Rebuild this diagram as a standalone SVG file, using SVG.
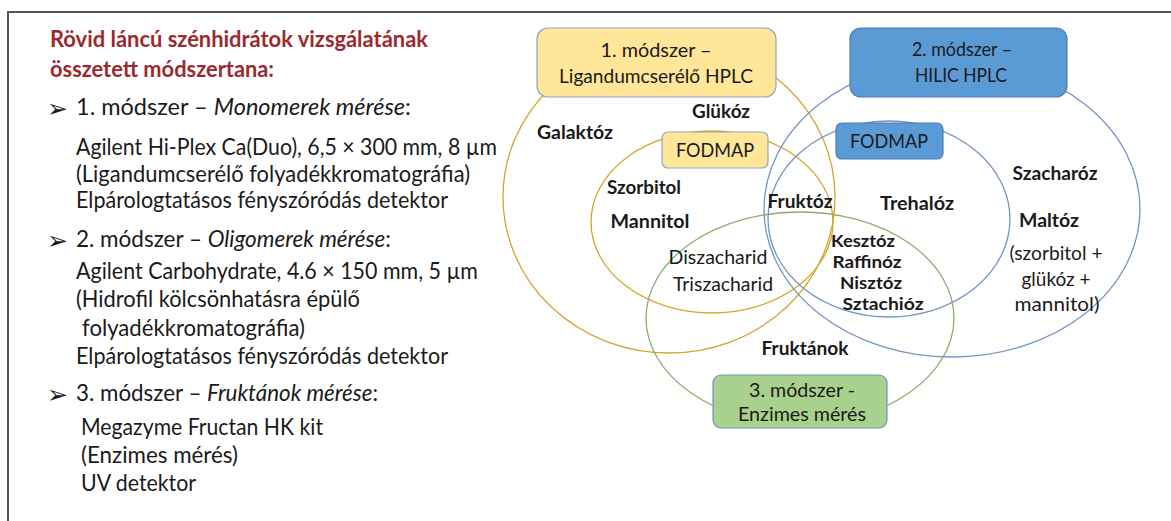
<svg xmlns="http://www.w3.org/2000/svg" width="1171" height="521" viewBox="0 0 1171 521">
<defs>
<style>
.t{font-family:Lato,"Open Sans","Liberation Sans",sans-serif;fill:#1a1a1a}
.body{font-size:22.5px}
.title{font-size:22px;font-weight:bold;fill:#9B2A2F}
.lb{font-size:19.5px;font-weight:bold;text-anchor:middle}
.ls{font-size:17px;font-weight:bold;text-anchor:middle}
.lr{font-size:20px;text-anchor:middle}
.bx{font-size:20px;text-anchor:middle}
.ey{fill:none;stroke:#D4A52A;stroke-width:1.3}
.eb{fill:none;stroke:#6F95C3;stroke-width:1.3}
.eg{fill:none;stroke:#8AAE6E;stroke-width:1.3}
.arw{font-family:"DejaVu Sans",sans-serif;font-size:25px;fill:#1a1a1a}
</style>
</defs>
<rect width="1171" height="521" fill="#ffffff"/>
<g id="frame" stroke="#5a5550" stroke-width="2" fill="none">
<line x1="8" y1="12" x2="1171" y2="12"/>
<line x1="8" y1="11" x2="8" y2="521"/>
</g>
<g id="left-text">
<text class="t title" x="50" y="47" textLength="378" lengthAdjust="spacingAndGlyphs">Rövid láncú szénhidrátok vizsgálatának</text>
<text class="t title" x="50" y="77" textLength="224" lengthAdjust="spacingAndGlyphs">összetett módszertana:</text>
<text class="arw" x="47" y="117">➢</text>
<text class="t body" x="76" y="115" textLength="335" lengthAdjust="spacingAndGlyphs">1. módszer – <tspan font-style="italic">Monomerek mérése</tspan>:</text>
<text class="t body" x="76" y="155" textLength="421" lengthAdjust="spacingAndGlyphs">Agilent Hi-Plex Ca(Duo), 6,5 × 300 mm, 8 µm</text>
<text class="t body" x="76" y="182" textLength="394" lengthAdjust="spacingAndGlyphs">(Ligandumcserélő folyadékkromatográfia)</text>
<text class="t body" x="76" y="208" textLength="372" lengthAdjust="spacingAndGlyphs">Elpárologtatásos fényszóródás detektor</text>
<text class="arw" x="47" y="249">➢</text>
<text class="t body" x="76" y="247" textLength="315" lengthAdjust="spacingAndGlyphs">2. módszer – <tspan font-style="italic">Oligomerek mérése</tspan>:</text>
<text class="t body" x="76" y="279" textLength="402" lengthAdjust="spacingAndGlyphs">Agilent Carbohydrate, 4.6 × 150 mm, 5 µm</text>
<text class="t body" x="76" y="307" textLength="284" lengthAdjust="spacingAndGlyphs">(Hidrofil kölcsönhatásra épülő</text>
<text class="t body" x="82" y="336" textLength="223" lengthAdjust="spacingAndGlyphs">folyadékkromatográfia)</text>
<text class="t body" x="76" y="364" textLength="372" lengthAdjust="spacingAndGlyphs">Elpárologtatásos fényszóródás detektor</text>
<text class="arw" x="47" y="403">➢</text>
<text class="t body" x="76" y="401" textLength="302" lengthAdjust="spacingAndGlyphs">3. módszer – <tspan font-style="italic">Fruktánok mérése</tspan>:</text>
<text class="t body" x="81" y="435" textLength="242" lengthAdjust="spacingAndGlyphs">Megazyme Fructan HK kit</text>
<text class="t body" x="81" y="463" textLength="157" lengthAdjust="spacingAndGlyphs">(Enzimes mérés)</text>
<text class="t body" x="81" y="491" textLength="115" lengthAdjust="spacingAndGlyphs">UV detektor</text>
</g>
<g id="connectors">
<ellipse class="ey" cx="669" cy="197" rx="166" ry="156"/>
<ellipse class="ey" cx="712" cy="222" rx="121" ry="91"/>
<ellipse class="eb" cx="952" cy="209" rx="188" ry="148"/>
<ellipse class="eb" cx="889" cy="219" rx="121" ry="98"/>
<ellipse class="eg" cx="800" cy="318" rx="154" ry="106"/>
</g>
<g id="method1">
<rect x="537" y="28" width="239" height="69" rx="11" fill="#FFE699" stroke="#8EA6BE" stroke-width="1.2"/>
<text class="t bx" x="656" y="57" textLength="111" lengthAdjust="spacingAndGlyphs">1. módszer –</text>
<text class="t bx" x="656" y="83" textLength="194" lengthAdjust="spacingAndGlyphs">Ligandumcserélő HPLC</text>
</g>
<g id="method2">
<rect x="850" y="28" width="217" height="69" rx="11" fill="#5B9BD5" stroke="#4A7FB0" stroke-width="1.2"/>
<text class="t bx" x="962" y="56" textLength="100" lengthAdjust="spacingAndGlyphs">2. módszer –</text>
<text class="t bx" x="961" y="82" textLength="92" lengthAdjust="spacingAndGlyphs">HILIC HPLC</text>
</g>
<g id="fodmap1">
<rect x="662" y="132" width="106" height="36" rx="6" fill="#FFE699" stroke="#8EA6BE" stroke-width="1.2"/>
<text class="t bx" x="715" y="157" textLength="78" lengthAdjust="spacingAndGlyphs">FODMAP</text>
</g>
<g id="fodmap2">
<rect x="836" y="123" width="107" height="36" rx="6" fill="#5B9BD5" stroke="#4A7FB0" stroke-width="1.2"/>
<text class="t bx" x="889" y="148" textLength="78" lengthAdjust="spacingAndGlyphs">FODMAP</text>
</g>
<g id="method3">
<rect x="713" y="375" width="174" height="53" rx="8" fill="#A9D18E" stroke="#6E94B8" stroke-width="1.2"/>
<text class="t bx" x="802" y="397" textLength="106" lengthAdjust="spacingAndGlyphs">3. módszer -</text>
<text class="t bx" x="802" y="421" textLength="128" lengthAdjust="spacingAndGlyphs">Enzimes mérés</text>
</g>
<g id="labels">
<text class="t lb" x="721" y="118" textLength="58" lengthAdjust="spacingAndGlyphs">Glükóz</text>
<text class="t lb" x="575" y="139" textLength="76" lengthAdjust="spacingAndGlyphs">Galaktóz</text>
<text class="t lb" x="644" y="194" textLength="74" lengthAdjust="spacingAndGlyphs">Szorbitol</text>
<text class="t lb" x="650" y="228" textLength="79" lengthAdjust="spacingAndGlyphs">Mannitol</text>
<text class="t lb" x="800" y="208" textLength="65" lengthAdjust="spacingAndGlyphs">Fruktóz</text>
<text class="t lb" x="917" y="210" textLength="74" lengthAdjust="spacingAndGlyphs">Trehalóz</text>
<text class="t lb" x="1055" y="180" textLength="85" lengthAdjust="spacingAndGlyphs">Szacharóz</text>
<text class="t lb" x="1049" y="227" textLength="60" lengthAdjust="spacingAndGlyphs">Maltóz</text>
<text class="t lr" x="1056" y="260" textLength="93" lengthAdjust="spacingAndGlyphs">(szorbitol +</text>
<text class="t lr" x="1056" y="286" textLength="69" lengthAdjust="spacingAndGlyphs">glükóz +</text>
<text class="t lr" x="1057" y="311" textLength="85" lengthAdjust="spacingAndGlyphs">mannitol)</text>
<text class="t lr" x="718" y="264" textLength="99" lengthAdjust="spacingAndGlyphs">Diszacharid</text>
<text class="t lr" x="723" y="291" textLength="100" lengthAdjust="spacingAndGlyphs">Triszacharid</text>
<text class="t ls" x="863" y="247" textLength="64" lengthAdjust="spacingAndGlyphs">Kesztóz</text>
<text class="t ls" x="867" y="268" textLength="69" lengthAdjust="spacingAndGlyphs">Raffinóz</text>
<text class="t ls" x="871" y="289" textLength="62" lengthAdjust="spacingAndGlyphs">Nisztóz</text>
<text class="t ls" x="883" y="310" textLength="81" lengthAdjust="spacingAndGlyphs">Sztachióz</text>
<text class="t lb" x="805" y="355" textLength="87" lengthAdjust="spacingAndGlyphs">Fruktánok</text>
</g>
</svg>
